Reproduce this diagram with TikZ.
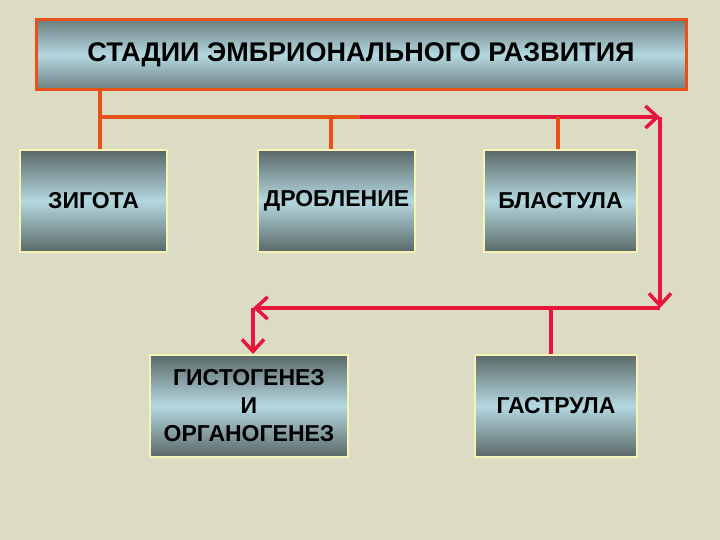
\documentclass[tikz,border=0pt]{standalone}
\usepackage{fontspec}
\setmainfont{Liberation Sans}
\usetikzlibrary{arrows.meta}
\definecolor{bg}{HTML}{DCDCC4}
\definecolor{org}{HTML}{E8501A}
\definecolor{crim}{HTML}{E8163C}
\definecolor{bord}{HTML}{F4F4B4}
\definecolor{dk}{HTML}{5A6868}
\definecolor{lt}{HTML}{B4D8E0}
\begin{document}
\begin{tikzpicture}[x=1pt,y=-1pt,
 stage/.style={draw=bord,line width=2pt,top color=dk,bottom color=dk,middle color=lt,align=center,font=\bfseries\fontsize{23}{28}\selectfont,inner sep=0pt},
 ol/.style={draw=org,line width=4pt},
 cl/.style={draw=crim,line width=4pt},
 arr/.style={-{Straight Barb[length=12pt,width=22pt,line width=3.5pt]}}]
\fill[bg] (0,0) rectangle (720,540);
\useasboundingbox (0,0) rectangle (720,540);
\node[stage,draw=org,line width=3pt,minimum width=650pt,minimum height=70pt,top color=dk!80!lt,bottom color=dk!80!lt,middle color=lt,font=\bfseries\fontsize{27}{32}\selectfont] (title) at (361,55) {СТАДИИ ЭМБРИОНАЛЬНОГО РАЗВИТИЯ};
\node[stage,minimum width=147pt,minimum height=102pt] (z) at (93.5,201) {ЗИГОТА};
\node[stage,minimum width=157pt,minimum height=102pt] (d) at (336.5,201) {ДРОБЛЕНИЕ};
\node[stage,minimum width=153pt,minimum height=102pt] (b) at (560.5,201) {БЛАСТУЛА};
\node[stage,minimum width=198pt,minimum height=102pt] (g) at (249,406) {ГИСТОГЕНЕЗ\\И\\ОРГАНОГЕНЕЗ};
\node[stage,minimum width=162pt,minimum height=102pt] (ga) at (556,406) {ГАСТРУЛА};
\coordinate (c1) at (100,117);
\coordinate (c2) at (360,117);
\coordinate (c3) at (660,117);
\coordinate (c4) at (660,308);
\coordinate (c5) at (253,308);
\draw[ol] (title.south -| c1) -- (c1) -- (c2);
\draw[ol] (c1) -- (z.north -| c1);
\draw[ol] (c2 -| d.north) ++(-6,0) coordinate (dd) -- (dd |- d.north);
\draw[cl,arr] (c2) -- (c3);
\draw[ol] (c3 -| b.north) ++(-3,0) coordinate (bb) -- (bb |- b.north);
\draw[cl,arr] (c3) -- (c4);
\draw[cl,arr] (c4) -- (c5);
\draw[cl,arr] (c5) -- (c5 |- g.north);
\draw[cl] (c4 -| ga.north) ++(-5,0) coordinate (gg) -- (gg |- ga.north);
\end{tikzpicture}
\end{document}
